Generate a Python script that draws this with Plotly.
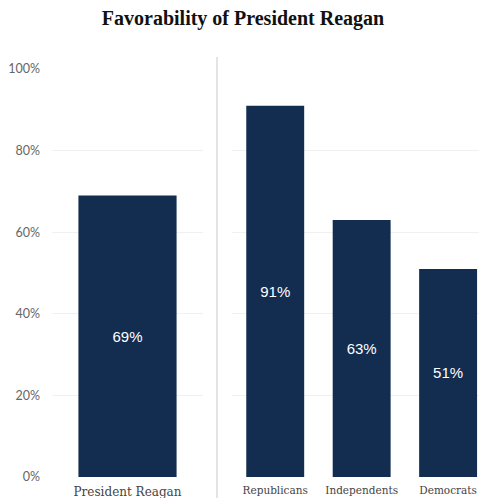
import plotly.graph_objects as go

overall_cats = ["President Reagan"]
overall_vals = [69]
party_cats = ["Republicans", "Independents", "Democrats"]
party_vals = [91, 63, 51]
y_ticks = [0, 20, 40, 60, 80, 100]
y_tick_labels = ["0%", "20%", "40%", "60%", "80%", "100%"]

BAR = "#132d51"
# the page body has an 8px default margin, so the figure starts at (8, 8)
OFF = 8
W, H = 487 - OFF, 498 - OFF

fig = go.Figure()
fig.add_trace(go.Bar(
    x=overall_cats, y=overall_vals, xaxis="x", yaxis="y",
    marker=dict(color=BAR, line=dict(width=0)), width=0.65,
    text=[f"{v}%" for v in overall_vals], textposition="inside",
    insidetextanchor="middle", textangle=0,
    textfont=dict(family="Liberation Sans, Arial", size=15, color="white"),
    hoverinfo="skip",
))
fig.add_trace(go.Bar(
    x=party_cats, y=party_vals, xaxis="x2", yaxis="y2",
    marker=dict(color=BAR, line=dict(width=0)), width=0.67,
    text=[f"{v}%" for v in party_vals], textposition="inside",
    insidetextanchor="middle", textangle=0,
    textfont=dict(family="Liberation Sans, Arial", size=15, color="white"),
    hoverinfo="skip",
))

ml, mr, mt, mb = 52 - OFF, 0, 69 - OFF, 21
pw = W - ml - mr
ph = H - mt - mb
def px(x):
    return (x - OFF - ml) / pw

grid = "#f0f0f0"
fig.update_layout(
    width=W, height=H,
    margin=dict(l=ml, r=mr, t=mt, b=mb, autoexpand=False),
    paper_bgcolor="white", plot_bgcolor="white",
    showlegend=False,
    title=dict(text="<b>Favorability of President Reagan</b>", x=px(243),
               xref="paper", xanchor="center", y=1 - (18 - OFF) / H,
               yanchor="middle",
               font=dict(family="Liberation Serif, serif", size=20, color="#111")),
    xaxis=dict(domain=[0, px(203)], range=[-0.5, 0.5], showgrid=False,
               showline=False, ticks="", zeroline=False, automargin=False,
               ticklabelstandoff=6,
               tickfont=dict(family="DejaVu Serif, serif", size=12, color="#444")),
    xaxis2=dict(domain=[px(232), 1], range=[-0.5, 2.45], anchor="y2",
                showgrid=False, showline=False, ticks="", zeroline=False,
                automargin=False, ticklabelstandoff=5,
                tickfont=dict(family="DejaVu Serif, serif", size=10.5, color="#444")),
    yaxis=dict(range=[0, 100], tickvals=y_ticks, ticktext=y_tick_labels,
               showgrid=True, gridcolor=grid, gridwidth=1, zeroline=False,
               showline=False, ticks="", ticklabelstandoff=11, automargin=False,
               tickfont=dict(family="Lato, sans-serif", size=12.5, color="#666")),
    yaxis2=dict(range=[0, 100], tickvals=y_ticks, showticklabels=False,
                anchor="x2", showgrid=True, gridcolor=grid, gridwidth=1,
                zeroline=False, showline=False, ticks="", automargin=False),
    shapes=[dict(type="line", xref="paper", yref="paper",
                 x0=px(217), x1=px(217), y0=-mb / ph,
                 y1=1 + 12 / ph,
                 line=dict(color="#c8c8c8", width=1))],
)

fig.write_html("out.html")
